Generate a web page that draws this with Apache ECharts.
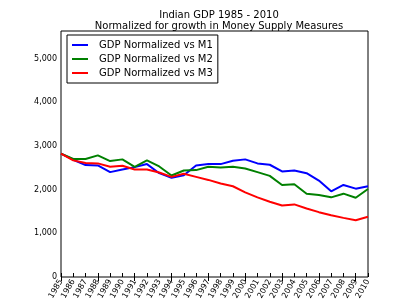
<!DOCTYPE html>
<html><head><meta charset="utf-8">
<script src="https://cdn.jsdelivr.net/npm/echarts@6/dist/echarts.min.js"></script>
<style>html,body{margin:0;padding:0;background:#fff}#c{width:409px;height:307px}</style>
</head><body><div id="c"></div>
<script>
const years = ['1985','1986','1987','1988','1989','1990','1991','1992','1993','1994','1995','1996','1997','1998','1999','2000','2001','2002','2003','2004','2005','2006','2007','2008','2009','2010'];
const m1 = [2823,2684,2561,2553,2400,2461,2515,2584,2376,2269,2330,2553,2584,2584,2661,2692,2600,2569,2415,2438,2376,2207,1961,2107,2022,2077];
const m2 = [2823,2700,2700,2784,2653,2692,2522,2669,2530,2322,2438,2446,2522,2507,2522,2484,2400,2315,2107,2122,1907,1876,1823,1907,1815,2015];
const m3 = [2823,2669,2607,2600,2522,2545,2461,2461,2392,2292,2361,2292,2222,2138,2077,1938,1823,1723,1638,1661,1569,1484,1415,1353,1300,1377];
const seriesNames = ['GDP Normalized vs M1','GDP Normalized vs M2','GDP Normalized vs M3'];
const titleLines = ['Indian GDP 1985 - 2010','Normalized for growth in Money Supply Measures'];

const F = 'DejaVu Sans';
const chart = echarts.init(document.getElementById('c'), null, {renderer:'canvas'});
const mk = (name, data, color) => ({
  name, type:'line', data, showSymbol:false, symbol:'none',
  lineStyle:{color, width:2}, itemStyle:{color}, animation:false
});
chart.setOption({
  animation:false,
  title:{text:titleLines.join('\n'), left:214, textAlign:'center', top:5,
    textStyle:{fontFamily:F, fontSize:10, fontWeight:'normal', color:'#000', lineHeight:11}},
  grid:{left:61, right:41, top:31, bottom:30, show:true, borderColor:'#000', borderWidth:1},
  legend:{orient:'vertical', left:67, top:35, data:seriesNames,
    icon:'rect', itemWidth:16, itemHeight:2, itemGap:4,
    borderColor:'#000', borderWidth:1, padding:[5,5,5,5],
    textStyle:{fontFamily:F, fontSize:10, color:'#000', padding:[0,0,0,6]}},
  xAxis:[{type:'category', data:years, boundaryGap:false,
    axisLine:{show:false}, axisTick:{inside:true, length:4, lineStyle:{color:'#000'}},
    axisLabel:{rotate:60, fontFamily:F, fontSize:8, color:'#000', margin:3, interval:0},
    splitLine:{show:false}},
    {type:'category', data:years, boundaryGap:false, position:'top',
    axisLine:{show:false}, axisTick:{inside:true, length:4, lineStyle:{color:'#000'}},
    axisLabel:{show:false}, splitLine:{show:false}}],
  yAxis:[{type:'value', min:0, max:5630, interval:1000,
    axisLine:{show:false}, axisTick:{inside:true, length:4, lineStyle:{color:'#000'}},
    axisLabel:{fontFamily:F, fontSize:8, color:'#000', margin:4, showMaxLabel:false,
      formatter:v=>v.toLocaleString('en-US')},
    splitLine:{show:false}},
    {type:'value', min:0, max:5630, interval:1000, position:'right',
    axisLine:{show:false}, axisTick:{inside:true, length:4, lineStyle:{color:'#000'}},
    axisLabel:{show:false}, splitLine:{show:false}}],
  series:[mk(seriesNames[0], m1, '#0000ff'), mk(seriesNames[1], m2, '#008000'), mk(seriesNames[2], m3, '#ff0000')]
});
</script></body></html>
